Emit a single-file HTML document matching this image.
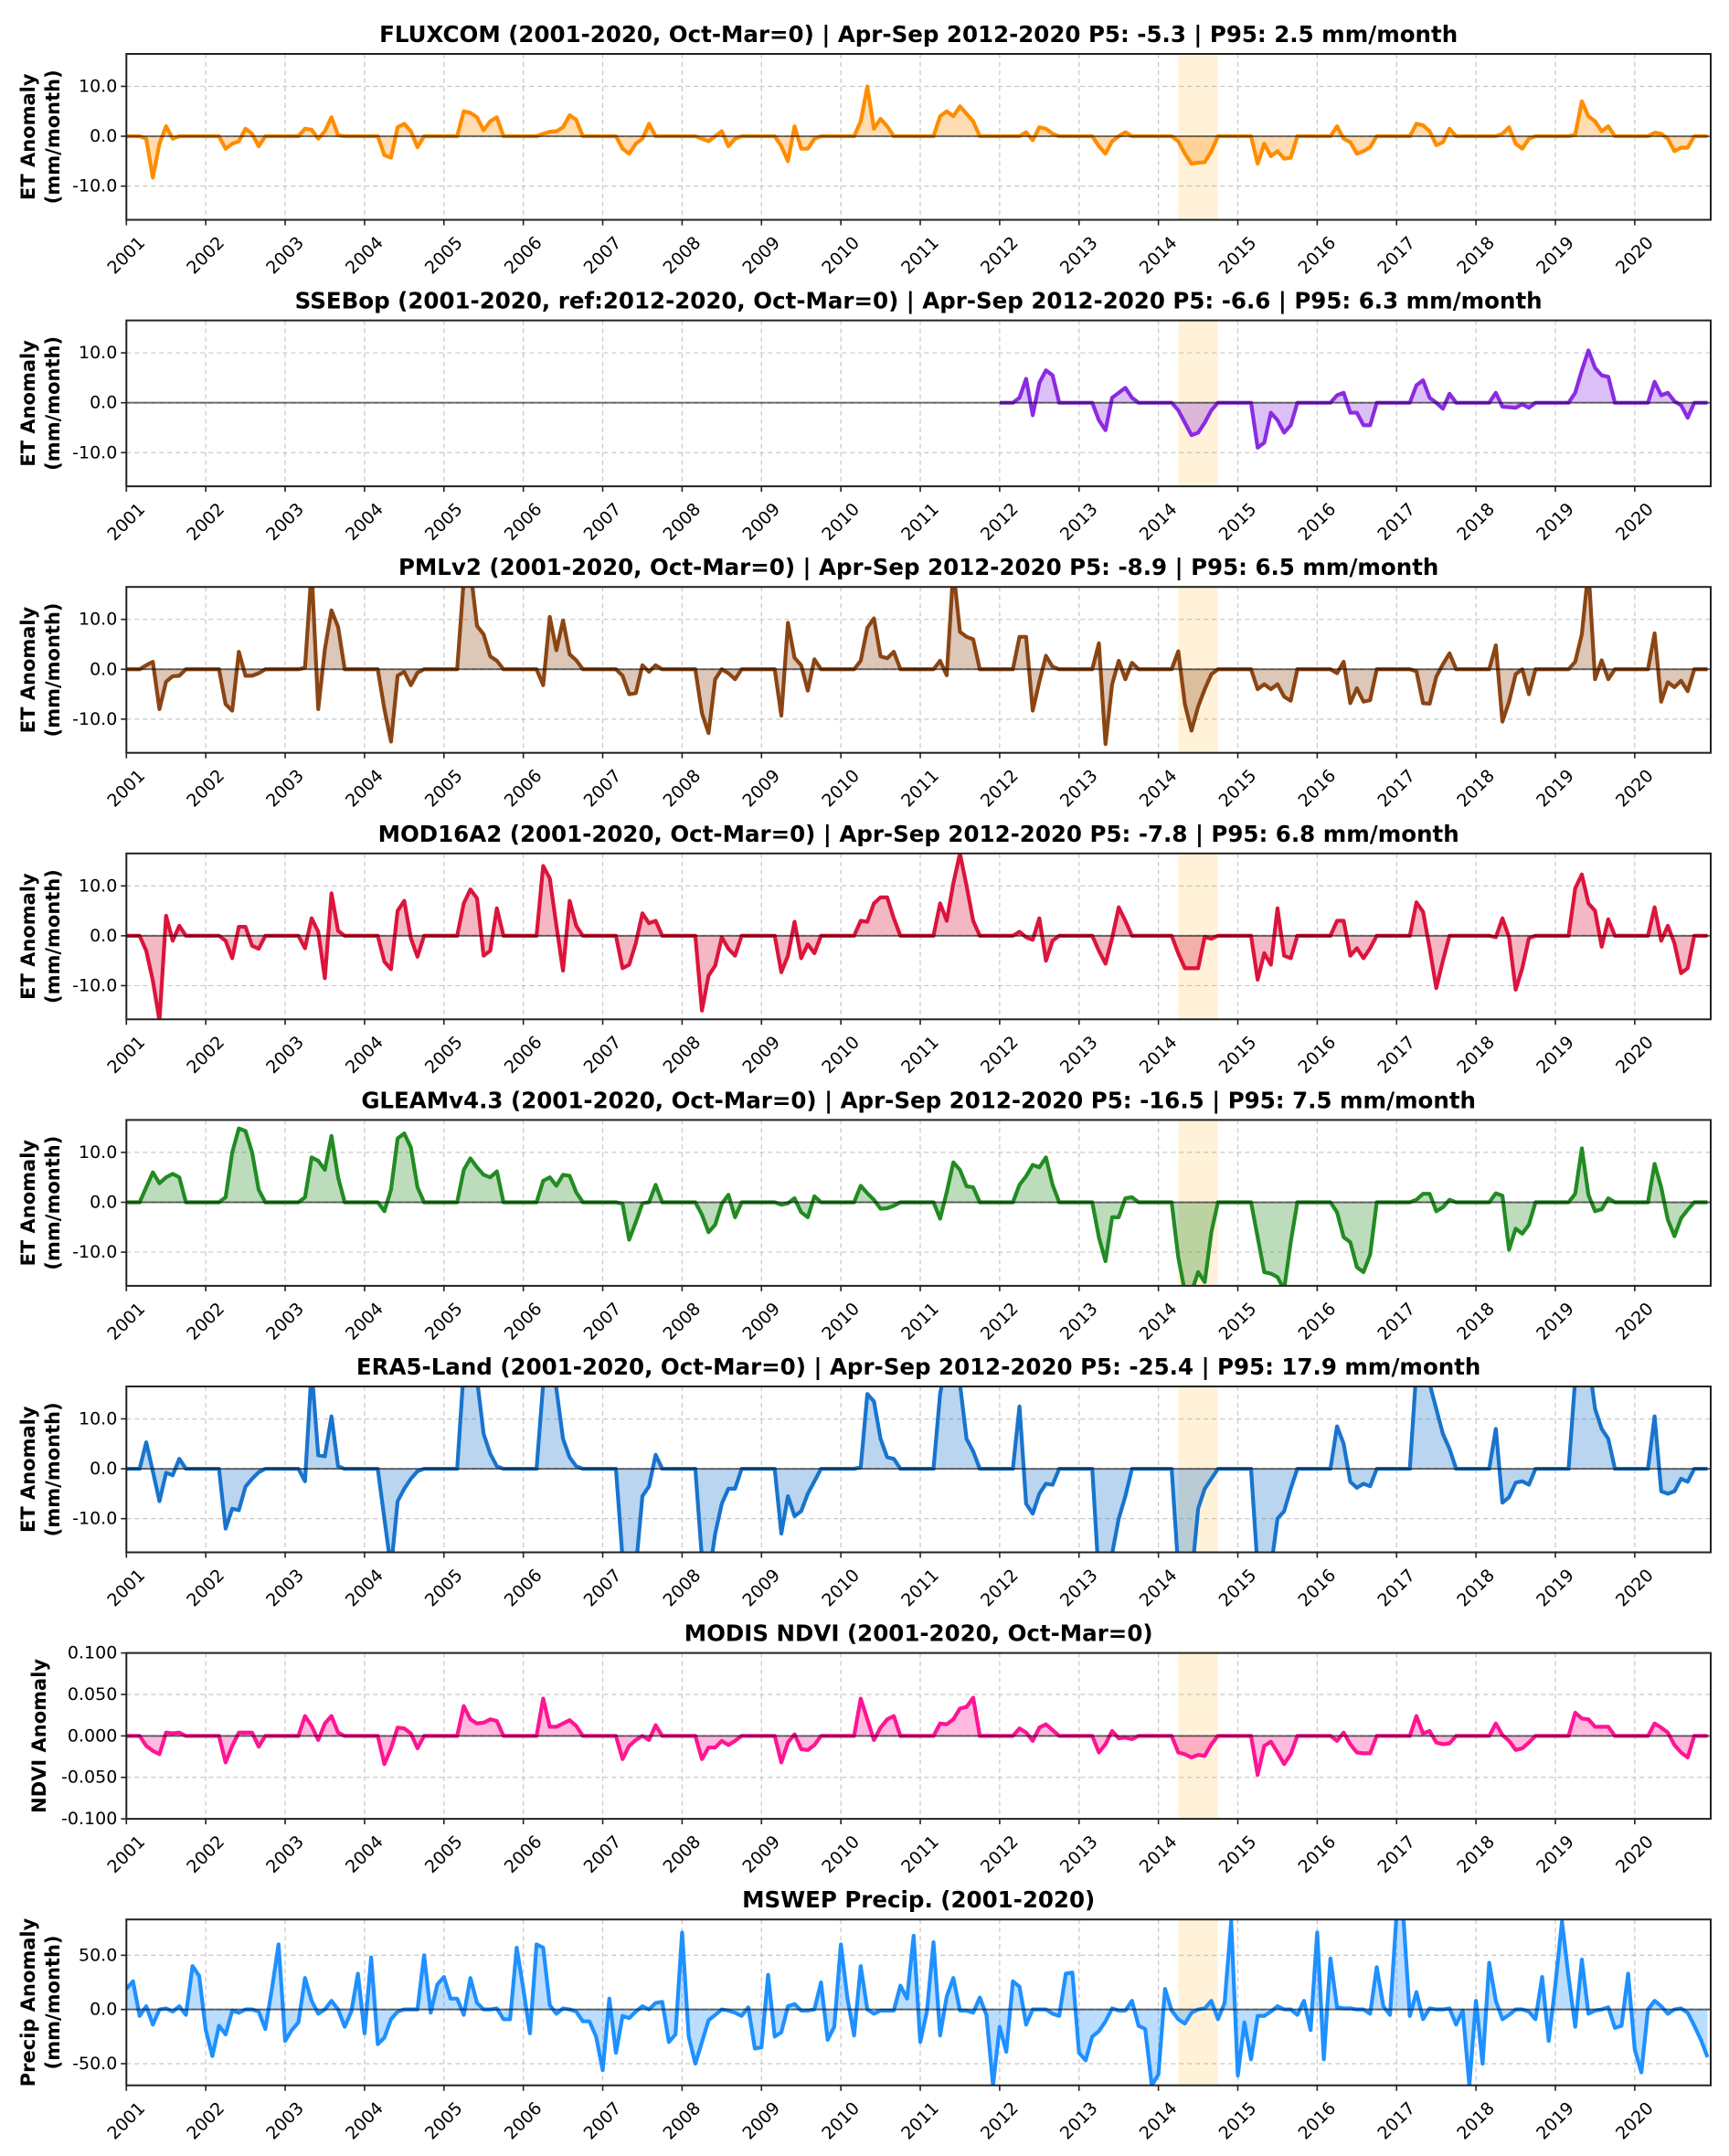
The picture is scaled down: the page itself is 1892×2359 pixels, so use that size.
<!DOCTYPE html>
<html><head><meta charset="utf-8"><style>
html,body{margin:0;padding:0;background:#fff;}
svg{display:block;font-family:"DejaVu Sans","Liberation Sans",sans-serif;}
</style></head><body>
<svg id="fig" xmlns="http://www.w3.org/2000/svg" width="1892" height="2359" viewBox="0 0 1892 2359"></svg>
<script>
// ---- data (monthly, Jan..Dec per row, 2001..2020) ----
const years = [2001,2002,2003,2004,2005,2006,2007,2008,2009,2010,2011,2012,2013,2014,2015,2016,2017,2018,2019,2020];
const fluxcom = [
0,0,0,-0.5,-8.3,-1.5,2,-0.5,0,0,0,0,
0,0,0,-2.5,-1.5,-1,1.5,0.5,-2,0,0,0,
0,0,0,1.5,1.3,-0.5,1,3.8,0.2,0,0,0,
0,0,0,-3.8,-4.3,1.8,2.5,1,-2.2,0,0,0,
0,0,0,5,4.7,3.8,1.2,3,3.8,0,0,0,
0,0,0,0.5,0.9,1,1.8,4.2,3.3,0,0,0,
0,0,0,-2.5,-3.5,-1.5,-0.5,2.5,0,0,0,0,
0,0,0,-0.5,-1,0,1,-2,-0.5,0,0,0,
0,0,0,-2,-5,2,-2.5,-2.5,-0.5,0,0,0,
0,0,0,3,10,1.5,3.5,2,0,0,0,0,
0,0,0,4,5,4,6,4.5,3,0,0,0,
0,0,0,0,0.8,-0.8,1.8,1.5,0.5,0,0,0,
0,0,0,-2,-3.5,-1,0,0.8,0,0,0,0,
0,0,0,-1,-3.5,-5.5,-5.3,-5.2,-3,0,0,0,
0,0,0,-5.5,-1.5,-4,-3,-4.5,-4.3,0,0,0,
0,0,0,2,-0.5,-1.2,-3.5,-3,-2.2,0,0,0,
0,0,0,2.5,2.2,1,-1.8,-1.2,1.5,0,0,0,
0,0,0,0,0.5,1.8,-1.5,-2.5,-0.5,0,0,0,
0,0,0,0.3,7,4,3,1,2,0,0,0,
0,0,0,0.7,0.5,-0.5,-3,-2.3,-2.3,0,0,0];
const N=null;
const ssebop = [
N,N,N,N,N,N,N,N,N,N,N,N, N,N,N,N,N,N,N,N,N,N,N,N, N,N,N,N,N,N,N,N,N,N,N,N,
N,N,N,N,N,N,N,N,N,N,N,N, N,N,N,N,N,N,N,N,N,N,N,N, N,N,N,N,N,N,N,N,N,N,N,N,
N,N,N,N,N,N,N,N,N,N,N,N, N,N,N,N,N,N,N,N,N,N,N,N, N,N,N,N,N,N,N,N,N,N,N,N,
N,N,N,N,N,N,N,N,N,N,N,N, N,N,N,N,N,N,N,N,N,N,N,N,
0,0,0,1,4.8,-2.5,4,6.5,5.5,0,0,0,
0,0,0,-3.5,-5.5,1,2,3,1,0,0,0,
0,0,0,-1.5,-4,-6.5,-6,-4,-1.5,0,0,0,
0,0,0,-9,-8,-2,-3.5,-6,-4.5,0,0,0,
0,0,0,1.5,2,-2,-2,-4.5,-4.5,0,0,0,
0,0,0,3.5,4.5,1,0,-1.2,1.8,0,0,0,
0,0,0,2,-0.8,-0.9,-1,-0.3,-1,0,0,0,
0,0,0,2,6.5,10.5,7,5.5,5.2,0,0,0,
0,0,0,4.2,1.5,2,0.3,-0.5,-3,0,0,0];
const pmlv2 = [
0,0,0,0.8,1.5,-8,-2.5,-1.4,-1.3,0,0,0,
0,0,0,-7,-8.3,3.5,-1.3,-1.3,-0.8,0,0,0,
0,0,0,0.3,20,-8,4,11.8,8.5,0,0,0,
0,0,0,-8,-14.5,-1.3,-0.5,-3.2,-0.7,0,0,0,
0,0,0,18,20,8.7,7,2.6,1.7,0,0,0,
0,0,0,-3.2,10.5,3.8,9.8,3,1.8,0,0,0,
0,0,0,-1.3,-5,-4.8,0.8,-0.5,0.8,0,0,0,
0,0,0,-8.8,-12.8,-2,0,-0.8,-2,0,0,0,
0,0,0,-9.3,9.3,2.3,0.8,-4.3,2,0,0,0,
0,0,0,1.7,8.3,10.2,2.6,2.2,3.5,0,0,0,
0,0,0,1.7,-1.2,20,7.5,6.5,6,0,0,0,
0,0,0,6.5,6.5,-8.3,-2.5,2.7,0.5,0,0,0,
0,0,0,5.2,-15,-3,1.7,-2,1.3,0,0,0,
0,0,0,3.6,-7,-12.3,-7.5,-4,-1,0,0,0,
0,0,0,-4,-3,-4,-3,-5.5,-6.3,0,0,0,
0,0,0,-0.8,1.5,-6.8,-3.8,-6.5,-6.2,0,0,0,
0,0,0,-0.4,-6.8,-6.9,-1.5,1,3.2,0,0,0,
0,0,0,4.8,-10.5,-6.5,-1,0,-5,0,0,0,
0,0,0,1.5,7,20,-2,1.8,-2,0,0,0,
0,0,0,7.2,-6.5,-2.6,-3.6,-2.3,-4.4,0,0,0];
const mod16 = [
0,0,0,-3,-9,-17,4,-1,2,0,0,0,
0,0,0,-1,-4.5,1.8,1.8,-2,-2.6,0,0,0,
0,0,0,-2.5,3.5,0.8,-8.5,8.5,1,0,0,0,
0,0,0,-5.2,-6.7,5,7,-0.5,-4.2,0,0,0,
0,0,0,6.5,9.3,7.5,-4,-3,5.5,0,0,0,
0,0,0,14,11.5,2,-7,7,2,0,0,0,
0,0,0,-6.5,-5.8,-1.5,4.5,2.5,3,0,0,0,
0,0,0,-15,-8,-6,-0.3,-2.6,-4,0,0,0,
0,0,0,-7.3,-4,2.8,-4.5,-1.7,-3.5,0,0,0,
0,0,0,3,2.8,6.5,7.7,7.7,3.5,0,0,0,
0,0,0,6.5,3,10.5,16.5,10,3,0,0,0,
0,0,0,0.8,-0.3,-0.8,3.5,-5,-1,0,0,0,
0,0,0,-3,-5.6,-0.5,5.7,3,0,0,0,0,
0,0,0,-3.5,-6.5,-6.5,-6.5,-0.2,-0.6,0,0,0,
0,0,0,-8.8,-3.5,-5.8,5.5,-4,-4.5,0,0,0,
0,0,0,3,3,-4,-2.5,-4.5,-2.5,0,0,0,
0,0,0,6.7,4.8,-2.5,-10.5,-5,0,0,0,0,
0,0,0,-0.3,3.5,-0.3,-10.8,-6.5,-0.5,0,0,0,
0,0,0,9.5,12.3,6.5,5,-2.2,3.3,0,0,0,
0,0,0,5.7,-1,2,-1.5,-7.5,-6.5,0,0,0];
const gleam = [
0,0,0,3,6,3.8,5,5.7,5,0,0,0,
0,0,0,1,10,14.8,14.3,10,2.5,0,0,0,
0,0,0,1,9,8.3,6.5,13.3,5,0,0,0,
0,0,0,-1.8,2.5,12.8,13.8,11,3,0,0,0,
0,0,0,6.5,8.8,7,5.5,5,6.2,0,0,0,
0,0,0,4.3,5,3.3,5.5,5.3,2,0,0,0,
0,0,0,-0.3,-7.5,-4,-0.2,0,3.5,0,0,0,
0,0,0,-2.5,-6,-4.5,-0.3,1.5,-3,0,0,0,
0,0,0,-0.5,-0.2,0.8,-2,-3,1.2,0,0,0,
0,0,0,3.3,1.8,0.5,-1.3,-1.2,-0.7,0,0,0,
0,0,0,-3.3,2,8,6.5,3.2,3,0,0,0,
0,0,0,3.5,5.2,7.5,7,9,3.5,0,0,0,
0,0,0,-7,-11.8,-3,-3,0.8,1,0,0,0,
0,0,0,-11,-18,-18,-14,-16,-6,0,0,0,
0,0,0,-7,-14,-14.3,-15,-17.5,-8,0,0,0,
0,0,0,-2,-7,-8,-13,-14,-10.5,0,0,0,
0,0,0,0.5,1.7,1.7,-1.8,-1,0.5,0,0,0,
0,0,0,1.8,1.3,-9.5,-5.3,-6.3,-4.5,0,0,0,
0,0,0,1.7,10.8,1.5,-1.8,-1.4,0.8,0,0,0,
0,0,0,7.7,3,-3.5,-6.8,-3.2,-1.5,0,0,0];
const era5 = [
0,0,0,5.3,-0.5,-6.5,-0.8,-1.3,2,0,0,0,
0,0,0,-12,-8,-8.3,-3.6,-2,-0.7,0,0,0,
0,0,0,-2.5,20,2.7,2.5,10.5,0.5,0,0,0,
0,0,0,-10,-20,-6.5,-4,-2,-0.5,0,0,0,
0,0,0,20,25,18,7,3,0.5,0,0,0,
0,0,0,17,22,16,6,2.3,0.5,0,0,0,
0,0,0,-18,-22,-20,-5.5,-3.5,2.8,0,0,0,
0,0,0,-18,-22,-13,-7,-4,-4,0,0,0,
0,0,0,-13,-5.5,-9.5,-8.5,-5,-2.5,0,0,0,
0,0,0,0.3,15,13.5,6,2.3,2,0,0,0,
0,0,0,15,22,22,17,6,3.5,0,0,0,
0,0,0,12.5,-7,-9,-5,-3,-3.2,0,0,0,
0,0,0,-22,-22,-17,-10,-5.5,0,0,0,0,
0,0,0,-20,-24,-22,-8,-4,-2,0,0,0,
0,0,0,-20,-22,-20,-10,-8.5,-4,0,0,0,
0,0,0,8.5,5,-2.6,-3.8,-3,-3.5,0,0,0,
0,0,0,20,22,17,12,7,4,0,0,0,
0,0,0,8,-6.8,-5.7,-2.8,-2.5,-3.2,0,0,0,
0,0,0,18,22,22,12,8,6,0,0,0,
0,0,0,10.5,-4.5,-5,-4.5,-2,-2.6,0,0,0];
const ndvi = [
0,0,0,-0.012,-0.018,-0.022,0.004,0.003,0.004,0,0,0,
0,0,0,-0.032,-0.012,0.004,0.004,0.004,-0.013,0,0,0,
0,0,0,0.024,0.012,-0.005,0.015,0.024,0.004,0,0,0,
0,0,0,-0.034,-0.015,0.01,0.009,0.003,-0.015,0,0,0,
0,0,0,0.036,0.02,0.015,0.016,0.02,0.018,0,0,0,
0,0,0,0.045,0.011,0.011,0.015,0.019,0.012,0,0,0,
0,0,0,-0.028,-0.012,-0.005,0,-0.005,0.013,0,0,0,
0,0,0,-0.028,-0.014,-0.014,-0.006,-0.011,-0.006,0,0,0,
0,0,0,-0.032,-0.008,0.002,-0.016,-0.017,-0.011,0,0,0,
0,0,0,0.045,0.02,-0.005,0.01,0.02,0.024,0,0,0,
0,0,0,0.015,0.014,0.02,0.033,0.035,0.046,0,0,0,
0,0,0,0.009,0.004,-0.006,0.01,0.014,0.007,0,0,0,
0,0,0,-0.02,-0.01,0.006,-0.003,-0.002,-0.004,0,0,0,
0,0,0,-0.02,-0.022,-0.026,-0.023,-0.024,-0.01,0,0,0,
0,0,0,-0.047,-0.012,-0.007,-0.02,-0.034,-0.022,0,0,0,
0,0,0,-0.006,0.004,-0.01,-0.02,-0.021,-0.021,0,0,0,
0,0,0,0.024,0.003,0.006,-0.008,-0.01,-0.009,0,0,0,
0,0,0,0.015,0.001,-0.006,-0.017,-0.015,-0.008,0,0,0,
0,0,0,0.028,0.021,0.02,0.011,0.011,0.011,0,0,0,
0,0,0,0.015,0.01,0.004,-0.011,-0.02,-0.026,0,0,0];
const precip = [
19,26,-6,3,-14,0,1,-2,3,-5,40,31,
-19,-43,-15,-23,-1,-3,0,0,-2,-18,19,60,
-29,-19,-12,29,8,-4,0,8,0,-16,-2,33,
-22,48,-32,-26,-9,-2,0,0,0,50,-3,23,
30,10,10,-5,29,6,0,0,1,-9,-9,57,
19,-22,60,57,4,-4,1,0,-2,-11,-11,-25,
-56,10,-40,-6,-8,-2,3,0,6,7,-30,-23,
71,-25,-50,-30,-10,-5,0,-1,-3,-6,2,-36,
-35,32,-25,-21,3,5,-1,-1,0,25,-28,-16,
60,10,-24,40,0,-4,-1,-1,-1,22,10,68,
-30,-2,62,-24,12,29,-1,-1,-3,11,-5,-70,
-16,-39,26,21,-14,0,0,0,-4,-6,33,34,
-40,-47,-25,-20,-11,1,-1,-1,8,-15,-18,-70,
-60,19,-1,-9,-13,-3,0,1,8,-9,6,81,
-61,-12,-46,-6,-6,-2,3,0,0,-5,8,-19,
71,-46,47,2,1,1,0,0,-4,39,3,-5,
88,88,-6,16,-9,1,0,0,1,-14,-1,-70,
8,-50,43,8,-9,-5,0,0,-2,-9,30,-29,
23,81,30,-16,46,-4,-1,0,2,-17,-15,33,
-37,-58,0,8,3,-4,0,1,-3,-15,-28,-44];
const yearTicks = ["2001","2002","2003","2004","2005","2006","2007","2008","2009","2010","2011","2012","2013","2014","2015","2016","2017","2018","2019","2020"];
const etTicks = [10, 0, -10];
const ndviTicks = [0.1, 0.05, 0, -0.05, -0.1];
const precipTicks = [50, 0, -50];
const droughtStart = 2014.25, droughtEnd = 2014.75;

// ---- layout ----
const NS = "http://www.w3.org/2000/svg";
const svg = document.getElementById('fig');
const PL = 138.3, PR = 1872, XMIN = 2001.0, XMAX = 2020.957;
const TOP0 = 59, PITCH = 291.6, PH = 181.5;
function xScale(t){ return PL + (t - XMIN) / (XMAX - XMIN) * (PR - PL); }
function mk(tag, attrs, parent){ const e = document.createElementNS(NS, tag); for (const k in attrs) e.setAttribute(k, attrs[k]); (parent||svg).appendChild(e); return e; }

const panels = [
 {key:'fluxcom', data:fluxcom, color:'#ff8c00', title:'FLUXCOM (2001-2020, Oct-Mar=0) | Apr-Sep 2012-2020 P5: -5.3 | P95: 2.5 mm/month', yl:['ET Anomaly','(mm/month)'], lo:-16.75, hi:16.5, ticks:etTicks, dec:1},
 {key:'ssebop', data:ssebop, color:'#8a2be2', title:'SSEBop (2001-2020, ref:2012-2020, Oct-Mar=0) | Apr-Sep 2012-2020 P5: -6.6 | P95: 6.3 mm/month', yl:['ET Anomaly','(mm/month)'], lo:-16.75, hi:16.5, ticks:etTicks, dec:1},
 {key:'pmlv2', data:pmlv2, color:'#8b4513', title:'PMLv2 (2001-2020, Oct-Mar=0) | Apr-Sep 2012-2020 P5: -8.9 | P95: 6.5 mm/month', yl:['ET Anomaly','(mm/month)'], lo:-16.75, hi:16.5, ticks:etTicks, dec:1},
 {key:'mod16a2', data:mod16, color:'#dc143c', title:'MOD16A2 (2001-2020, Oct-Mar=0) | Apr-Sep 2012-2020 P5: -7.8 | P95: 6.8 mm/month', yl:['ET Anomaly','(mm/month)'], lo:-16.75, hi:16.5, ticks:etTicks, dec:1},
 {key:'gleam', data:gleam, color:'#228b22', title:'GLEAMv4.3 (2001-2020, Oct-Mar=0) | Apr-Sep 2012-2020 P5: -16.5 | P95: 7.5 mm/month', yl:['ET Anomaly','(mm/month)'], lo:-16.75, hi:16.5, ticks:etTicks, dec:1},
 {key:'era5', data:era5, color:'#1874cd', title:'ERA5-Land (2001-2020, Oct-Mar=0) | Apr-Sep 2012-2020 P5: -25.4 | P95: 17.9 mm/month', yl:['ET Anomaly','(mm/month)'], lo:-16.75, hi:16.5, ticks:etTicks, dec:1},
 {key:'ndvi', data:ndvi, color:'#ff1493', title:'MODIS NDVI (2001-2020, Oct-Mar=0)', yl:['NDVI Anomaly'], lo:-0.1, hi:0.1, ticks:ndviTicks, dec:3},
 {key:'precip', data:precip, color:'#1e90ff', title:'MSWEP Precip. (2001-2020)', yl:['Precip Anomaly','(mm/month)'], lo:-70, hi:83, ticks:precipTicks, dec:1}
];

panels.forEach((p, i) => {
  const top = TOP0 + i * PITCH, bot = top + PH;
  const yS = v => bot - (v - p.lo) / (p.hi - p.lo) * PH;
  const g = mk('g', {});
  
  
  const cp = mk('clipPath', {id:'clip' + i}, g);
  mk('rect', {x:PL, y:top, width:PR-PL, height:PH}, cp);

  const t = mk('text', {x:(PL+PR)/2, y:top-13, 'text-anchor':'middle', 'font-size':'24.5', 'font-weight':'bold', fill:'#000'}, g);
  t.textContent = p.title;
  
  

  yearTicks.forEach((lab, k) => {
    const x = xScale(+lab);
    const gl = mk('line', {x1:x, x2:x, y1:top, y2:bot, stroke:'#b0b0b0', 'stroke-width':1.2, 'stroke-dasharray':'5,4', opacity:0.7}, g);
    
    
  });
  p.ticks.forEach(v => {
    const y = yS(v);
    if (y > top + 1 && y < bot - 1) {
      const gl = mk('line', {x1:PL, x2:PR, y1:y, y2:y, stroke:'#b0b0b0', 'stroke-width':1.2, 'stroke-dasharray':'5,4', opacity:0.7}, g);
      
      
    }
  });

  const band = mk('rect', {x:xScale(droughtStart), y:top, width:xScale(droughtEnd)-xScale(droughtStart), height:PH, fill:'#ffa500', 'fill-opacity':0.15}, g);
  
  

  const pts = [];
  p.data.forEach((v, k) => {
    if (v === null) return;
    const yr = years[Math.floor(k/12)], m = k % 12;
    pts.push([xScale(yr + m/12), yS(v)]);
  });
  const y0 = yS(0);
  const inner = pts.map(q => q[0].toFixed(2) + ',' + q[1].toFixed(2)).join(' L');
  const fill = mk('path', {d:'M' + pts[0][0].toFixed(2) + ',' + y0 + ' L' + inner + ' L' + pts[pts.length-1][0].toFixed(2) + ',' + y0 + ' Z', fill:p.color, 'fill-opacity':0.3, stroke:'none', 'clip-path':'url(#clip' + i + ')'}, g);
  
  
  const line = mk('path', {d:'M' + inner, fill:'none', stroke:p.color, 'stroke-width':4.2, 'stroke-linejoin':'round', 'clip-path':'url(#clip' + i + ')'}, g);
  
  

  const zl = mk('line', {x1:PL, x2:PR, y1:y0, y2:y0, stroke:'#000', 'stroke-width':2, opacity:0.55}, g);
  
  

  const fr = mk('rect', {x:PL, y:top, width:PR-PL, height:PH, fill:'none', stroke:'#222', 'stroke-width':2}, g);
  
  

  yearTicks.forEach(lab => {
    const x = xScale(+lab);
    mk('line', {x1:x, x2:x, y1:bot, y2:bot+6, stroke:'#222', 'stroke-width':1.6}, g);
    const tl = mk('text', {x:x, y:bot+39, 'text-anchor':'middle', 'dominant-baseline':'central', 'font-size':'19', fill:'#000', transform:'rotate(-45 ' + x + ' ' + (bot+39) + ')'}, g);
    tl.textContent = lab;
    
    
  });
  p.ticks.forEach(v => {
    const y = yS(v);
    mk('line', {x1:PL-6, x2:PL, y1:y, y2:y, stroke:'#222', 'stroke-width':1.6}, g);
    const tl = mk('text', {x:PL-10, y:y, 'text-anchor':'end', 'dominant-baseline':'central', 'font-size':'19', fill:'#000'}, g);
    tl.textContent = v.toFixed(p.dec);
    
    
  });
  const cy = (top + bot) / 2;
  const xs = p.yl.length === 2 ? [31, 58] : [43];
  p.yl.forEach((s, k) => {
    const yl = mk('text', {x:xs[k], y:cy, 'text-anchor':'middle', 'dominant-baseline':'central', 'font-size':'21', 'font-weight':'bold', fill:'#000', transform:'rotate(-90 ' + xs[k] + ' ' + cy + ')'}, g);
    yl.textContent = s;
    
    
  });
});
</script>
</body></html>
